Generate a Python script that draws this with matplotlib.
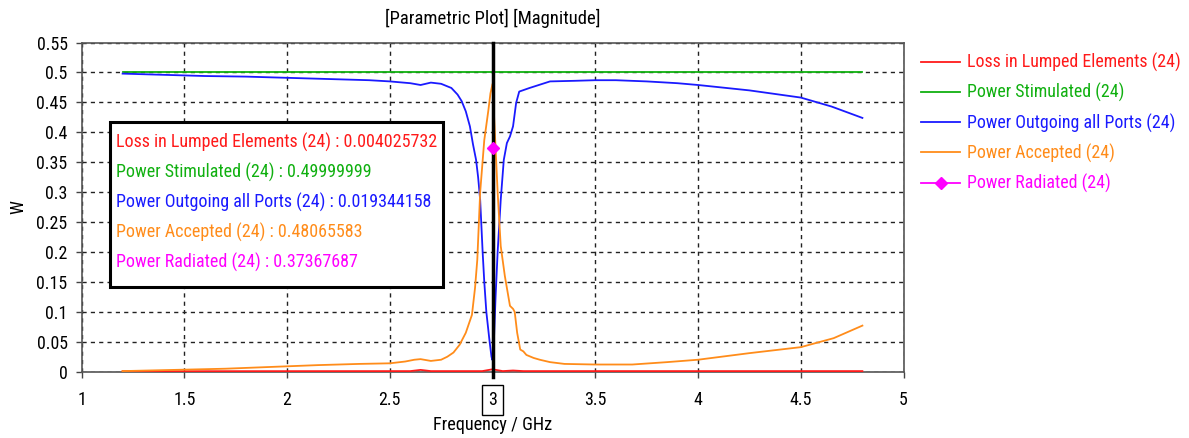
import matplotlib
matplotlib.use("Agg")
import matplotlib.pyplot as plt
from matplotlib.patches import Rectangle
from matplotlib import font_manager

# pick a narrow sans font if one is installed
_avail = {f.name for f in font_manager.fontManager.ttflist}
FONT = 'Liberation Sans'
for cand in ['Liberation Sans Narrow', 'Roboto Condensed', 'Open Sans Condensed',
             'Noto Sans Condensed', 'Liberation Sans']:
    if cand in _avail:
        FONT = cand
        break
plt.rcParams['font.family'] = [FONT, 'DejaVu Sans']

# ---------------- data ----------------
stim_freq = [1.2, 4.8]
stim_vals = [0.5, 0.5]

out_freq = [1.2, 1.4, 1.6, 1.8, 2.0, 2.2, 2.4, 2.5, 2.6, 2.65, 2.7, 2.75, 2.8, 2.83,
            2.85, 2.87, 2.89, 2.905, 2.92, 2.93, 2.94, 2.952, 2.96, 2.97, 2.985, 2.995,
            3.0, 3.005, 3.01, 3.015, 3.025, 3.04, 3.055, 3.07, 3.085, 3.1, 3.115, 3.13,
            3.18, 3.28, 3.4, 3.5, 3.6, 3.75, 3.9, 4.0, 4.25, 4.5, 4.65, 4.8]
out_vals = [0.498, 0.496, 0.494, 0.493, 0.491, 0.489, 0.487, 0.485, 0.482, 0.479, 0.483,
            0.481, 0.474, 0.463, 0.452, 0.435, 0.41, 0.38, 0.354, 0.325, 0.287, 0.2, 0.15,
            0.1, 0.053, 0.025, 0.0193, 0.035, 0.08, 0.125, 0.2, 0.287, 0.354, 0.382, 0.393,
            0.41, 0.449, 0.468, 0.474, 0.485, 0.486, 0.487, 0.487, 0.485, 0.482, 0.479,
            0.470, 0.458, 0.443, 0.424]

acc_freq = [1.2, 1.45, 1.7, 2.0, 2.15, 2.35, 2.5, 2.575, 2.62, 2.65, 2.7, 2.75, 2.78,
            2.81, 2.84, 2.87, 2.9, 2.915, 2.926, 2.94, 2.96, 2.98, 2.99, 3.0, 3.01, 3.025,
            3.04, 3.06, 3.085, 3.1, 3.108, 3.12, 3.135, 3.15, 3.165, 3.2, 3.23, 3.28, 3.35,
            3.5, 3.68, 3.85, 4.0, 4.25, 4.5, 4.66, 4.8]
acc_vals = [0.001, 0.003, 0.005, 0.009, 0.011, 0.013, 0.014, 0.017, 0.020, 0.021, 0.018,
            0.020, 0.025, 0.032, 0.045, 0.065, 0.095, 0.14, 0.187, 0.3, 0.387, 0.437, 0.465,
            0.4807, 0.41, 0.3, 0.21, 0.16, 0.11, 0.105, 0.1, 0.065, 0.037, 0.034, 0.028,
            0.023, 0.02, 0.016, 0.013, 0.012, 0.012, 0.016, 0.02, 0.031, 0.041, 0.056, 0.077]

loss_freq = [1.2, 2.6, 2.65, 2.7, 2.95, 3.0, 3.05, 3.1, 3.15, 4.8]
loss_vals = [0.0008, 0.001, 0.003, 0.001, 0.001, 0.004, 0.001, 0.002, 0.001, 0.001]

rad_freq = [3.0]
rad_vals = [0.37367687]

marker_freq = 3.0
readout_labels = ["Loss in Lumped Elements (24) : 0.004025732",
                  "Power Stimulated (24) : 0.49999999",
                  "Power Outgoing all Ports (24) : 0.019344158",
                  "Power Accepted (24) : 0.48065583",
                  "Power Radiated (24) : 0.37367687"]

x_ticks = [1, 1.5, 2, 2.5, 3, 3.5, 4, 4.5, 5]
x_tick_labels = ["1", "1.5", "2", "2.5", "3", "3.5", "4", "4.5", "5"]
y_ticks = [0, 0.05, 0.1, 0.15, 0.2, 0.25, 0.3, 0.35, 0.4, 0.45, 0.5, 0.55]
y_tick_labels = ["0", "0.05", "0.1", "0.15", "0.2", "0.25", "0.3", "0.35", "0.4",
                 "0.45", "0.5", "0.55"]

RED = '#ff1a1a'
GREEN = '#10b010'
BLUE = '#1a1aff'
ORANGE = '#ff8c1a'
MAGENTA = '#ff00ff'
colors = [RED, GREEN, BLUE, ORANGE, MAGENTA]

# ---------------- figure ----------------
W, H = 1189, 438
fig = plt.figure(figsize=(W / 100, H / 100), dpi=100)
renderer = fig.canvas.get_renderer()


def fit_size(s, target_px):
    t = fig.text(0, 0, s, fontsize=10)
    w = t.get_window_extent(renderer).width
    t.remove()
    return 10 * target_px / w


FS_LEG = fit_size("Loss in Lumped Elements (24)", 212)
FS_BOX = fit_size(readout_labels[0], 319)
FS_TICK = fit_size("0.55", 31)
FS_TITLE = fit_size("[Parametric Plot] [Magnitude]", 215)
FS_XLAB = fit_size("Frequency / GHz", 119)

L, R, T, B = 81.5, 903.5, 42.5, 371.7
ax = fig.add_axes([L / W, 1 - B / H, (R - L) / W, (B - T) / H])

ax.set_xlim(1, 5)
ax.set_ylim(0, 0.55)

ax.plot(loss_freq, loss_vals, color=RED, lw=1.3, label="Loss in Lumped Elements (24)", zorder=3)
ax.plot(stim_freq, stim_vals, color=GREEN, lw=1.3, label="Power Stimulated (24)", zorder=3)
ax.plot(out_freq, out_vals, color=BLUE, lw=1.3, label="Power Outgoing all Ports (24)", zorder=3)
ax.plot(acc_freq, acc_vals, color=ORANGE, lw=1.3, label="Power Accepted (24)", zorder=3)
ax.plot(rad_freq, rad_vals, color=MAGENTA, lw=1.3, marker='D', ms=6,
        label="Power Radiated (24)", zorder=5)

ax.axvline(marker_freq, color='black', lw=2.5, zorder=4, clip_on=False,
           ymin=-0.015, ymax=1)

ax.set_xticks(x_ticks)
ax.set_xticklabels(x_tick_labels)
ax.set_yticks(y_ticks)
ax.set_yticklabels(y_tick_labels)
ax.tick_params(direction='out', length=4, width=1, color='#444444',
               labelsize=FS_TICK, pad=6)
ax.tick_params(axis='x', pad=10)

for lab in ax.get_xticklabels():
    if lab.get_text() == "3":
        lab.set_bbox(dict(facecolor='white', edgecolor='black', lw=1, pad=4.5))

ax.grid(True, color='#222222', ls=(0, (3, 3)), lw=1)
ax.set_axisbelow(True)
for s in ax.spines.values():
    s.set_color('#555555')
    s.set_linewidth(1.2)

ax.set_title("[Parametric Plot] [Magnitude]", fontsize=FS_TITLE, pad=13)
ax.set_xlabel("Frequency / GHz", fontsize=FS_XLAB)
ax.xaxis.set_label_coords(0.5, -(425 - B) / (B - T))
ax.xaxis.label.set_va('center')
ax.set_ylabel("W", fontsize=FS_XLAB)
ax.yaxis.set_label_coords((18 - L) / (R - L), 0.5)
ax.yaxis.label.set_va('center')

# readout box
bx0, bx1 = (110 - L) / (R - L), (443 - L) / (R - L)
by0, by1 = (B - 287) / (B - T), (B - 122) / (B - T)
ax.add_patch(Rectangle((bx0, by0), bx1 - bx0, by1 - by0, transform=ax.transAxes,
                       facecolor='white', edgecolor='black', lw=2.2, zorder=6))
for i, (txt, c) in enumerate(zip(readout_labels, colors)):
    yp = 142 + 30.2 * i
    ax.text((116 - L) / (R - L), (B - yp) / (B - T), txt, color=c, fontsize=FS_BOX,
            transform=ax.transAxes, va='center', ha='left', zorder=7)

leg = ax.legend(loc='upper left', bbox_to_anchor=((921 - L) / (R - L), (B - 53) / (B - T)),
                frameon=False, fontsize=FS_LEG, labelcolor='linecolor', handlelength=2.2,
                handletextpad=0.4, labelspacing=0.62, borderaxespad=0, borderpad=0)

fig.savefig("out.png", dpi=100)
